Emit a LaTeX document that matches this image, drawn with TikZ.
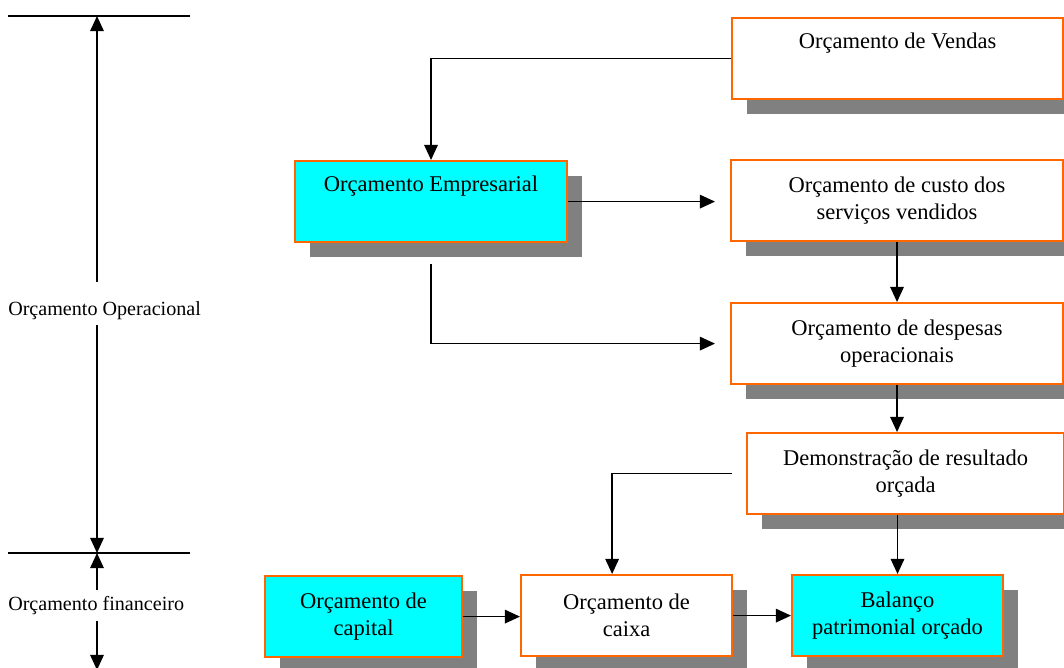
\documentclass[tikz,border=0pt]{standalone}
\usepackage{fontspec}
\setmainfont{Liberation Serif}
\usetikzlibrary{arrows.meta,shadows,positioning}
\definecolor{boxorange}{RGB}{255,102,0}
\definecolor{boxcyan}{RGB}{0,255,255}
\definecolor{shadowgray}{RGB}{128,128,128}

\begin{document}
\begin{tikzpicture}[x=0.025cm,y=-0.025cm]
\tikzstyle{box}=[rectangle, anchor=north west, draw=boxorange, line width=1.4pt, fill=white, inner sep=0, minimum height=2.03cm, align=center, font=\fontsize{16}{19.2}\selectfont, drop shadow={shadow xshift=0.375cm, shadow yshift=-0.375cm, fill=shadowgray, opacity=1}]
\tikzstyle{hot}=[fill=boxcyan]
\tikzstyle{lbl}=[anchor=west, inner sep=0, font=\fontsize{14.3}{17}\selectfont]
\tikzstyle{connect}=[-{Triangle[length=0.38cm,width=0.34cm]}, line width=1.1pt]
\tikzstyle{plain}=[line width=1.1pt]

	\useasboundingbox (0,0) rectangle (1064,667);

	% boxes
	\node[box, minimum width=8.275cm] (vendas) at (731,17) {Orçamento de Vendas\\\strut};
	\node[box, hot, minimum width=6.8cm] (empresarial) at (294,160) {Orçamento Empresarial\\\strut};
	\node[box, minimum width=8.3cm] (custo) at (730,159) {Orçamento de custo dos\\serviços vendidos};
	\node[box, minimum width=8.3cm] (despesas) at (730,302) {Orçamento de despesas\\operacionais};
	\node[box, minimum width=7.925cm] (demonstracao) at (746,432) {Demonstração de resultado\\orçada};

	\node[box, hot, minimum width=4.925cm] (capital) at (264,575) {Orçamento de\\capital};
	\node[box, minimum width=5.275cm] (caixa) at (520,574) {Orçamento de\\caixa};
	\node[box, hot, minimum width=5.275cm] (balanco) at (791,574) {Balanço\\patrimonial orçado};

	% connectors
	\draw[connect] (vendas.west) -| (empresarial.north);
	\draw[connect, shorten >=0.375cm] (empresarial.east) -- (empresarial.east -| custo.west);
	\draw[connect, shorten <=0.525cm, shorten >=0.375cm] (empresarial.south) |- (despesas.west);
	\draw[connect] (custo.south) -- (despesas.north);
	\draw[connect] (despesas.south) -- (despesas.south |- demonstracao.north);
	\draw[connect, shorten <=0.35cm] (demonstracao.west) -| ([xshift=-0.36cm]caixa.north);
	\draw[connect] (demonstracao.south -| balanco.north) -- (balanco.north);
	\draw[connect] (capital.east) -- (capital.east -| caixa.west);
	\draw[connect] (caixa.east) -- (balanco.west);

	% left scale
	\coordinate (topl) at (8,16);
	\coordinate (topr) at (190,16);
	\coordinate (midl) at (8,553);
	\coordinate (midr) at (190,553);
	\coordinate (optop) at (97,16);
	\coordinate (opbot) at (97,553);
	\coordinate (finbot) at (97,670);

	\node[lbl] (operacional) at (8,311) {Orçamento Operacional};
	\node[lbl] (financeiro) at (8,606) {Orçamento financeiro};

	\draw[plain] (topl) -- (topr);
	\draw[plain] (midl) -- (midr);
	\draw[connect, shorten <=0.5cm] (operacional.north -| optop) -- (optop);
	\draw[connect, shorten <=0.125cm] (operacional.south -| optop) -- (opbot);
	\draw[connect, shorten <=0.175cm] (financeiro.north -| optop) -- (opbot);
	\draw[connect, shorten <=0.125cm] (financeiro.south -| optop) -- (finbot);

\end{tikzpicture}
\end{document}
